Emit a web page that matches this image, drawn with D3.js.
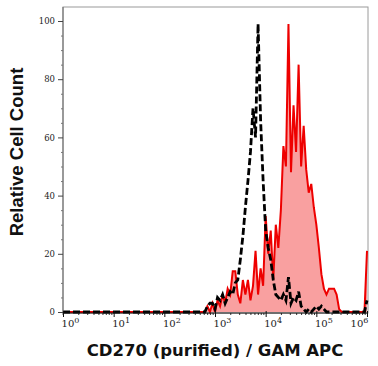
<!DOCTYPE html>
<html>
<head>
<meta charset="utf-8">
<script src="https://cdn.jsdelivr.net/npm/d3@7"></script>
<style>
  body { margin: 0; background: #fff; }
  .tick text { font-family: "DejaVu Serif", serif; fill: #222; }
  .axTitle { font-family: "DejaVu Sans", sans-serif; font-weight: bold; fill: #111; }
</style>
</head>
<body>
<div id="chart"></div>
<script>
// Hard Code values ---------- ---------- ----------
let canvasW = 378, canvasH = 366;
let xTitle = "CD270 (purified) / GAM APC", yTitle = "Relative Cell Count";

// histogram bins: log10 of bin centre, from 10^2.6 to 10^6 in 0.05 decade steps
let binLog = d3.range(0, 69).map(i => 2.6 + i * 0.05);
// isotype control (black dashed)
let controlCounts = [0,0,0,0,0,2,3,3,1,5,4,6,3,5,7,6,10,11,18,26,36,45,55,70,60,99,66,45,28,22,18,11,6,5,4,6,4,12,3,5,4,7,2,1,0,1,0,1,2,1,2,1,0,0,0,0,0,0,0,0,0,0,0,0,0,0,0,0,4];
// CD270 stained (red filled)
let stainedCounts = [0,0,0,0,0,2,0,3,0,4,2,6,3,8,6,14,14,6,3,11,6,11,4,9,21,6,15,9,33,20,28,11,30,22,35,57,50,99,48,71,55,85,50,64,49,41,44,36,30,22,13,8,6,8,8,8,6,1,0,0,0,0,0,0,0,0,0,0,21];
let xMajor = [1, 10, 100, 1000, 10000, 100000, 1000000];
let yMajor = [0, 20, 40, 60, 80, 100];

let red = "#ee0000", redFill = "#f9a0a0";

// Setup ---------- ---------- ----------
let svg = d3.select("#chart").append("svg").attr("width", canvasW).attr("height", canvasH);
let pL = 63, pR = 367, pT = 7, pB = 313;

let xScale = d3.scaleLog().domain([1, 1e6]).range([pL, pR]);
let yScale = d3.scaleLinear().domain([0, 100]).range([312, 21]);

// frame
svg.append("rect").attr("x", pL).attr("y", pT).attr("width", pR + 1 - pL).attr("height", pB - pT)
  .attr("fill", "none").attr("stroke", "#9a9a9a").attr("stroke-width", 1);

// Draw histograms ---------- ---------- ----------
function series(counts) {
  let pts = [[1, 0]];
  counts.forEach((c, i) => pts.push([Math.pow(10, binLog[i]), c]));
  return pts;
}
let line = d3.line().x(d => xScale(d[0])).y(d => yScale(d[1]));
let area = d3.area().x(d => xScale(d[0])).y0(yScale(0)).y1(d => yScale(d[1]));

let stained = series(stainedCounts);
svg.append("path").datum(stained).attr("d", area).attr("fill", redFill).attr("stroke", "none");
svg.append("path").datum(stained).attr("d", line).attr("fill", "none")
  .attr("stroke", red).attr("stroke-width", 2).attr("stroke-linejoin", "miter");

svg.append("path").datum(series(controlCounts)).attr("d", line).attr("fill", "none")
  .attr("stroke", "#000").attr("stroke-width", 2.8).attr("stroke-dasharray", "7,3");

// Y axis ---------- ---------- ----------
let yAxis = svg.append("g").attr("transform", "translate(" + pL + ",0)")
  .call(d3.axisLeft(yScale).tickValues(yMajor).tickSize(5).tickPadding(3));
yAxis.select(".domain").attr("stroke", "#666").attr("d", "M0," + pT + "V" + (pB + 2));
yAxis.selectAll(".tick line").attr("stroke", "#444");
yAxis.selectAll(".tick text").attr("font-size", 8.5);
svg.append("g").attr("transform", "translate(" + pL + ",0)")
  .call(d3.axisLeft(yScale).tickValues(d3.range(5, 105, 5).filter(v => v % 20)).tickSize(2).tickFormat(""))
  .call(g => g.select(".domain").remove())
  .selectAll(".tick line").attr("stroke", "#777");

// X axis ---------- ---------- ----------
let minor = [];
for (let e = 0; e < 6; e++) for (let m = 2; m < 10; m++) minor.push(m * Math.pow(10, e));
svg.append("g").attr("transform", "translate(0," + pB + ")")
  .call(d3.axisBottom(xScale).tickValues(minor).tickSize(2).tickFormat(""))
  .call(g => g.select(".domain").remove())
  .selectAll(".tick line").attr("stroke", "#333");
let xAxis = svg.append("g").attr("transform", "translate(0," + pB + ")")
  .call(d3.axisBottom(xScale).tickValues(xMajor).tickSize(4).tickPadding(4).tickFormat(""));
xAxis.select(".domain").attr("stroke", "#111").attr("stroke-width", 1.2).attr("d", "M" + pL + ",0H" + (pR + 1));
xAxis.selectAll(".tick line").attr("stroke", "#111").attr("y1", -2);
xAxis.selectAll(".tick text").each(function(d, i) {
  let t = d3.select(this).attr("font-size", 10).attr("y", 7).attr("dy", "0.71em")
    .attr("x", i === xMajor.length - 1 ? -8 : 7);
  t.append("tspan").text("10");
  t.append("tspan").attr("font-size", 8).attr("dy", "-4").text(Math.round(Math.log10(d)));
});

// Titles ---------- ---------- ----------
svg.append("text").attr("class", "axTitle").attr("x", 215).attr("y", 356)
  .attr("text-anchor", "middle").attr("font-size", 16.5).text(xTitle);
svg.append("text").attr("class", "axTitle").attr("transform", "translate(23,152) rotate(-90)")
  .attr("text-anchor", "middle")
  .style("font-family", "'Liberation Sans', Arial, sans-serif").attr("font-size", 18.5).text(yTitle);
</script>
</body>
</html>
